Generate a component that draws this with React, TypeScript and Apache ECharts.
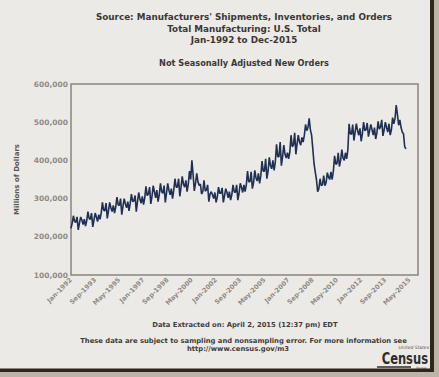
import React, { useEffect, useRef } from "react";
import * as echarts from "echarts";

const monthNames = ["Jan", "Feb", "Mar", "Apr", "May", "Jun", "Jul", "Aug", "Sep", "Oct", "Nov", "Dec"];
const years = [1992, 1993, 1994, 1995, 1996, 1997, 1998, 1999, 2000, 2001, 2002, 2003, 2004, 2005, 2006, 2007, 2008, 2009, 2010, 2011, 2012, 2013, 2014, 2015];
const categories: string[] = [];
years.forEach((y) => monthNames.forEach((m) => categories.push(`${m}-${y}`)));

// New orders, in thousands of millions of dollars (value / 1000)
const v1992 = [222, 236, 255, 240, 238, 252, 218, 236, 252, 244, 232, 246];
const v1993 = [228, 242, 266, 248, 246, 262, 226, 244, 262, 252, 240, 258];
const v1994 = [246, 262, 290, 270, 268, 288, 248, 268, 290, 276, 266, 282];
const v1995 = [262, 278, 304, 284, 282, 300, 258, 280, 300, 286, 276, 292];
const v1996 = [268, 288, 312, 292, 294, 308, 266, 292, 316, 298, 288, 306];
const v1997 = [284, 302, 332, 308, 312, 330, 286, 306, 334, 318, 302, 322];
const v1998 = [292, 310, 340, 318, 314, 334, 290, 314, 340, 322, 310, 326];
const v1999 = [300, 322, 352, 330, 330, 352, 306, 330, 358, 338, 330, 348];
const v2000 = [318, 338, 372, 350, 400, 362, 320, 340, 366, 344, 334, 338];
const v2001 = [312, 318, 348, 320, 322, 336, 292, 312, 318, 310, 300, 316];
const v2002 = [290, 304, 330, 314, 314, 328, 290, 308, 326, 316, 302, 318];
const v2003 = [296, 310, 336, 318, 316, 336, 296, 314, 340, 330, 316, 336];
const v2004 = [318, 336, 372, 344, 344, 370, 326, 342, 374, 354, 346, 366];
const v2005 = [340, 360, 398, 372, 372, 404, 352, 372, 408, 386, 378, 400];
const v2006 = [374, 396, 442, 410, 410, 448, 386, 410, 440, 416, 406, 420];
const v2007 = [404, 422, 466, 436, 440, 472, 416, 444, 466, 448, 440, 460];
const v2008 = [448, 466, 494, 478, 486, 510, 480, 466, 430, 392, 370, 350];
const v2009 = [318, 326, 352, 334, 336, 360, 334, 342, 368, 356, 350, 370];
const v2010 = [350, 372, 412, 390, 392, 420, 384, 400, 428, 406, 400, 420];
const v2011 = [404, 428, 496, 470, 468, 494, 452, 474, 496, 478, 466, 484];
const v2012 = [450, 470, 500, 478, 480, 498, 462, 478, 494, 480, 466, 486];
const v2013 = [456, 472, 502, 482, 488, 506, 464, 480, 500, 486, 474, 496];
const v2014 = [466, 480, 512, 496, 510, 545, 520, 492, 506, 486, 474, 470];
const v2015 = [436, 430];

const UNIT = 1000;
const newOrders = [
  ...v1992, ...v1993, ...v1994, ...v1995, ...v1996, ...v1997, ...v1998, ...v1999,
  ...v2000, ...v2001, ...v2002, ...v2003, ...v2004, ...v2005, ...v2006, ...v2007,
  ...v2008, ...v2009, ...v2010, ...v2011, ...v2012, ...v2013, ...v2014, ...v2015,
].map((v) => v * UNIT);

const yMin = 100000;
const yMax = 600000;
const yStep = 100000;

const titleLines = [
  "Source: Manufacturers' Shipments, Inventories, and Orders",
  "Total Manufacturing: U.S. Total",
  "Jan-1992 to Dec-2015",
];
const subTitle = "Not Seasonally Adjusted New Orders";
const footLines = [
  "Data Extracted on: April 2, 2015 (12:37 pm) EDT",
  "These data are subject to sampling and nonsampling error. For more information see",
  "http://www.census.gov/m3",
];

const FONT = "'DejaVu Sans', Verdana, sans-serif";

export default function App() {
  const ref = useRef<HTMLDivElement>(null);
  useEffect(() => {
    if (!ref.current) return;
    const chart = echarts.init(ref.current, undefined, { renderer: "svg" });
    const txt = (text: string, x: number, y: number, size: number, color = "#3a3835", align = "center") => ({
      type: "text",
      x,
      y,
      silent: true,
      style: {
        text,
        fill: color,
        font: `bold ${size}px ${FONT}`,
        textAlign: align,
        textVerticalAlign: "middle",
      },
    });
    chart.setOption({
      animation: false,
      backgroundColor: "#ECEAE7",
      grid: {
        left: 71,
        top: 84,
        width: 347,
        height: 191,
        show: true,
        borderColor: "#8a847f",
        borderWidth: 1.5,
        backgroundColor: "transparent",
      },
      xAxis: {
        type: "category",
        data: categories,
        boundaryGap: false,
        axisLine: { show: false },
        axisTick: { show: false },
        splitLine: { show: false },
        axisLabel: {
          interval: 19,
          rotate: 45,
          margin: 4,
          fontSize: 6.5,
          fontWeight: "bold",
          fontFamily: FONT,
          color: "#8f8a85",
        },
      },
      yAxis: {
        type: "value",
        min: yMin,
        max: yMax,
        interval: yStep,
        axisLine: { show: false },
        axisTick: { show: false },
        splitLine: { show: false },
        axisLabel: {
          margin: 3,
          fontSize: 7.5,
          fontWeight: "bold",
          fontFamily: FONT,
          color: "#8f8a85",
          formatter: (v: number) => v.toLocaleString("en-US"),
        },
        name: "Millions of Dollars",
        nameLocation: "middle",
        nameGap: 51,
        nameRotate: 90,
        nameTextStyle: { fontSize: 7, fontWeight: "bold", fontFamily: FONT, color: "#5a5653" },
      },
      series: [
        {
          type: "line",
          data: newOrders,
          showSymbol: false,
          symbol: "none",
          lineStyle: { color: "#1f3052", width: 1.6 },
        },
      ],
      graphic: [
        txt(titleLines[0], 244, 17, 8.8),
        txt(titleLines[1], 244, 29, 8.8),
        txt(titleLines[2], 244, 40, 8.8),
        txt(subTitle, 244, 63, 8.2),
        txt(footLines[0], 245, 325, 6.8, "#3f3c39"),
        txt(footLines[1], 243.5, 341, 6.8, "#3f3c39"),
        txt(footLines[2], 238, 349, 6.8, "#3f3c39"),
        {
          type: "text",
          x: 429,
          y: 347,
          silent: true,
          style: {
            text: "United States",
            fill: "#555",
            font: `italic 4.5px ${FONT}`,
            textAlign: "right",
            textVerticalAlign: "middle",
          },
        },
        {
          type: "text",
          x: 428,
          y: 358,
          scaleX: 0.8,
          silent: true,
          style: {
            text: "Census",
            fill: "#2f2d2b",
            font: `bold 16px 'DejaVu Sans Condensed', 'DejaVu Sans', sans-serif`,
            textAlign: "right",
            textVerticalAlign: "middle",
          },
        },
        { type: "rect", silent: true, shape: { x: 377, y: 366.2, width: 34, height: 1.5 }, style: { fill: "#2f2d2b" } },
        {
          type: "text",
          x: 427,
          y: 367.3,
          silent: true,
          style: { text: "Bureau", fill: "#555", font: `3px ${FONT}`, textAlign: "right", textVerticalAlign: "middle" },
        },
        // frame
        { type: "rect", silent: true, shape: { x: 434, y: 0, width: 5, height: 377 }, style: { fill: "#bdb4a8" } },
        { type: "rect", silent: true, shape: { x: 0, y: 372, width: 439, height: 5 }, style: { fill: "#bdb4a8" } },
        { type: "rect", silent: true, shape: { x: 430, y: 0, width: 4, height: 372 }, style: { fill: "#2e251b" } },
        { type: "rect", silent: true, shape: { x: 0, y: 368.5, width: 434, height: 3.5 }, style: { fill: "#2e251b" } },
      ],
    });
    return () => chart.dispose();
  }, []);
  return <div ref={ref} style={{ position: "fixed", left: 0, top: 0, width: 439, height: 377 }} />;
}
